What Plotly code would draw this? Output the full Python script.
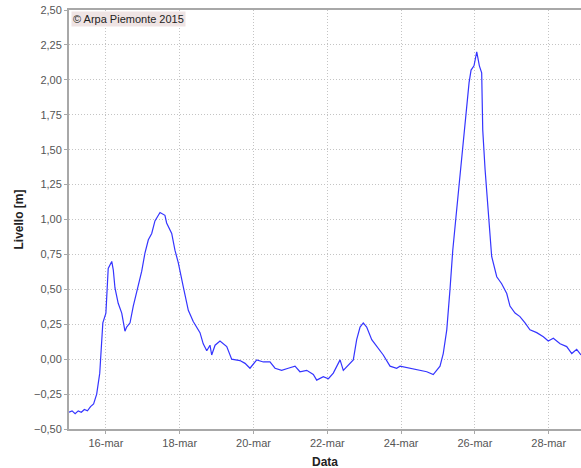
import pandas as pd
import plotly.graph_objects as go

# ---- data ----
start_date = "2015-03-15 00:00"
hours = [0, 2, 4, 6, 8, 10, 12, 14, 16, 18, 20, 21, 22, 24, 25, 25.5, 27.8, 28.8, 29.9, 32,
         34.3, 36.4, 37.5, 39.7, 41.8, 45.1, 47.3, 49.4, 51.6, 53.8, 55.9, 59.2, 62.4, 63.5, 66.8,
         68.9, 71.1, 74.3, 77.6, 80.8, 84.1, 85.2, 87.3, 89.6, 91.7, 92.8, 95, 98.2, 102.6, 105.8,
         111.2, 114.5, 117.7, 122.1, 126.4, 130.7, 134, 138.3, 142.6, 147, 150.2, 154.6, 158.9,
         161.1, 165.4, 168.7, 171.9, 176.3, 178.4, 181.7, 184.9, 187.1, 189.3, 191.4, 193.6,
         196.9, 200.1, 204.4, 208.8, 213.1, 215.3, 221.8, 228.3, 232.7, 236.9, 241.3, 243.4,
         245.7, 247.8, 249.6, 251.7, 253.9, 255.4, 256.9, 258.7, 260.2, 261.5, 263.4, 265.2,
         266.9, 268.4, 269.1, 270.6, 272.1, 273.4, 274.9, 278.2, 281.4, 284.7, 286.8, 290.1,
         293.3, 296.6, 299.8, 304.2, 308.5, 311.7, 315, 319.4, 323.7, 327, 330.2, 333]
livello = [-0.38, -0.37, -0.39, -0.37, -0.38, -0.36, -0.37, -0.34, -0.32, -0.25, -0.10, 0.11,
           0.26, 0.33, 0.50, 0.65, 0.70, 0.64, 0.51, 0.40, 0.33, 0.20, 0.23, 0.26, 0.38, 0.54,
           0.63, 0.76, 0.855, 0.90, 0.99, 1.05, 1.03, 0.975, 0.90, 0.78, 0.69, 0.52, 0.35, 0.27,
           0.21, 0.19, 0.11, 0.06, 0.10, 0.03, 0.10, 0.13, 0.09, 0.00, -0.01, -0.03, -0.065,
           -0.005, -0.02, -0.02, -0.065, -0.08, -0.065, -0.05, -0.09, -0.08, -0.11, -0.15,
           -0.125, -0.14, -0.10, -0.005, -0.08, -0.04, -0.005, 0.14, 0.23, 0.26, 0.23, 0.14,
           0.09, 0.03, -0.05, -0.065, -0.05, -0.065, -0.08, -0.09, -0.11, -0.05, 0.04, 0.21,
           0.50, 0.78, 1.02, 1.26, 1.45, 1.64, 1.835, 1.98, 2.07, 2.10, 2.20, 2.10, 2.05, 1.64,
           1.36, 1.12, 0.93, 0.735, 0.59, 0.54, 0.47, 0.38, 0.33, 0.305, 0.26, 0.21, 0.19, 0.16,
           0.13, 0.15, 0.11, 0.09, 0.04, 0.07, 0.03]
tick_dates = ["2015-03-16", "2015-03-18", "2015-03-20", "2015-03-22", "2015-03-24",
              "2015-03-26", "2015-03-28"]
tick_labels = ["16-mar", "18-mar", "20-mar", "22-mar", "24-mar", "26-mar", "28-mar"]
x_range = ["2015-03-15 00:00", "2015-03-28 21:00"]
y_ticks = [-0.5, -0.25, 0, 0.25, 0.5, 0.75, 1.0, 1.25, 1.5, 1.75, 2.0, 2.25, 2.5]

times = pd.Timestamp(start_date) + pd.to_timedelta(hours, unit="h")

FONT = "Liberation Sans, Arial, sans-serif"
fig = go.Figure()
fig.add_trace(go.Scatter(x=times, y=livello, mode="lines",
                         line=dict(color="#3535ff", width=1.2), showlegend=False))

tickfont = dict(family=FONT, size=11, color="#555555")
grid = dict(showgrid=True, gridcolor="#c4c4c4", griddash="1px,2px", gridwidth=1,
            showline=True, linecolor="#a8a8a8", linewidth=2, mirror=True,
            ticks="outside", ticklen=3, tickcolor="#a8a8a8",
            tickfont=tickfont, zeroline=False, automargin=False)
fig.update_layout(
    width=581, height=468,
    margin=dict(l=69, r=0, t=10, b=39),
    paper_bgcolor="white", plot_bgcolor="white",
    separators=",.",
    xaxis=dict(range=x_range, tickvals=tick_dates, ticktext=tick_labels, **grid),
    yaxis=dict(range=[-0.5, 2.5], tickvals=y_ticks, tickformat=".2f", **grid),
)
fig.add_annotation(text="<b>Data</b>", xref="paper", yref="paper", x=0.5, y=0,
                   yshift=-33, xanchor="center", yanchor="middle", showarrow=False,
                   font=dict(family=FONT, size=12, color="#222222"))
fig.add_annotation(text="<b>Livello [m]</b>", xref="paper", yref="paper", x=0, y=0.5,
                   xshift=-51, xanchor="center", yanchor="middle", showarrow=False,
                   textangle=-90, font=dict(family=FONT, size=12, color="#222222"))
fig.add_annotation(
    text="© Arpa Piemonte 2015", xref="paper", yref="paper", x=0.003, y=0.998,
    xanchor="left", yanchor="top", showarrow=False,
    font=dict(family=FONT, size=11, color="#222222"),
    bgcolor="#efe4e4", borderpad=1,
)
fig.write_html("out.html", config={"displayModeBar": False},
               post_script="document.body.style.margin='0';")
